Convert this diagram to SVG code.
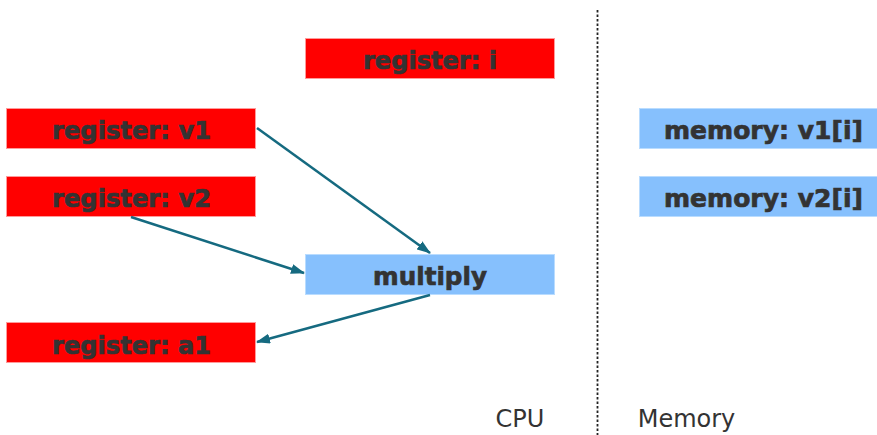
<svg xmlns="http://www.w3.org/2000/svg" width="877" height="435" viewBox="0 0 877 435">
<style>
.reg{fill:#ff0000;stroke:#ff9a9a;stroke-width:1}
.mem{fill:#86c0fd;stroke:#b9dcff;stroke-width:1}
.lbl{font-family:"DejaVu Sans",Verdana,sans-serif;font-weight:bold;font-size:25.5px;fill:#333333;stroke:#333333;stroke-width:0.7;text-anchor:middle}
.cap{font-family:"DejaVu Sans",Verdana,sans-serif;font-size:24px;fill:#333333;text-anchor:middle}
.conn{stroke:#156a80;stroke-width:2.5;fill:none;marker-end:url(#ah)}
</style>
<defs>
<marker id="ah" viewBox="0 0 14 10" refX="13" refY="5" markerWidth="14" markerHeight="10" markerUnits="userSpaceOnUse" orient="auto">
<path d="M0,0 L14,5 L0,10 z" fill="#156a80"/>
</marker>
</defs>
<rect width="877" height="435" fill="#ffffff"/>
<line x1="597.5" y1="10" x2="597.5" y2="435" stroke="#222" stroke-width="1.8" stroke-dasharray="2.5,2"/>
<g id="reg-i"><rect class="reg" x="305.5" y="38.5" width="249" height="40"/><text class="lbl" x="430" y="69" textLength="134" lengthAdjust="spacingAndGlyphs">register: i</text></g>
<g id="reg-v1"><rect class="reg" x="6.5" y="108.5" width="249" height="40"/><text class="lbl" x="131.5" y="139" textLength="159" lengthAdjust="spacingAndGlyphs">register: v1</text></g>
<g id="reg-v2"><rect class="reg" x="6.5" y="176.5" width="249" height="40"/><text class="lbl" x="131.5" y="207" textLength="159" lengthAdjust="spacingAndGlyphs">register: v2</text></g>
<g id="multiply"><rect class="mem" x="305.5" y="254.5" width="249" height="40"/><text class="lbl" x="430" y="285" textLength="114" lengthAdjust="spacingAndGlyphs">multiply</text></g>
<g id="reg-a1"><rect class="reg" x="6.5" y="322.5" width="249" height="40"/><text class="lbl" x="131.5" y="354" textLength="159" lengthAdjust="spacingAndGlyphs">register: a1</text></g>
<g id="mem-v1"><rect class="mem" x="639.5" y="108.5" width="249" height="40"/><text class="lbl" x="763.5" y="139" textLength="199" lengthAdjust="spacingAndGlyphs">memory: v1[i]</text></g>
<g id="mem-v2"><rect class="mem" x="639.5" y="176.5" width="249" height="40"/><text class="lbl" x="763.5" y="207" textLength="199" lengthAdjust="spacingAndGlyphs">memory: v2[i]</text></g>
<g id="labels"><text class="cap" x="520" y="427">CPU</text><text class="cap" x="686.5" y="427">Memory</text></g>
<g id="connectors">
<line class="conn" x1="257" y1="128" x2="430" y2="253"/>
<line class="conn" x1="131" y1="217" x2="304" y2="273"/>
<line class="conn" x1="430" y1="295" x2="257" y2="342"/>
</g>
</svg>
